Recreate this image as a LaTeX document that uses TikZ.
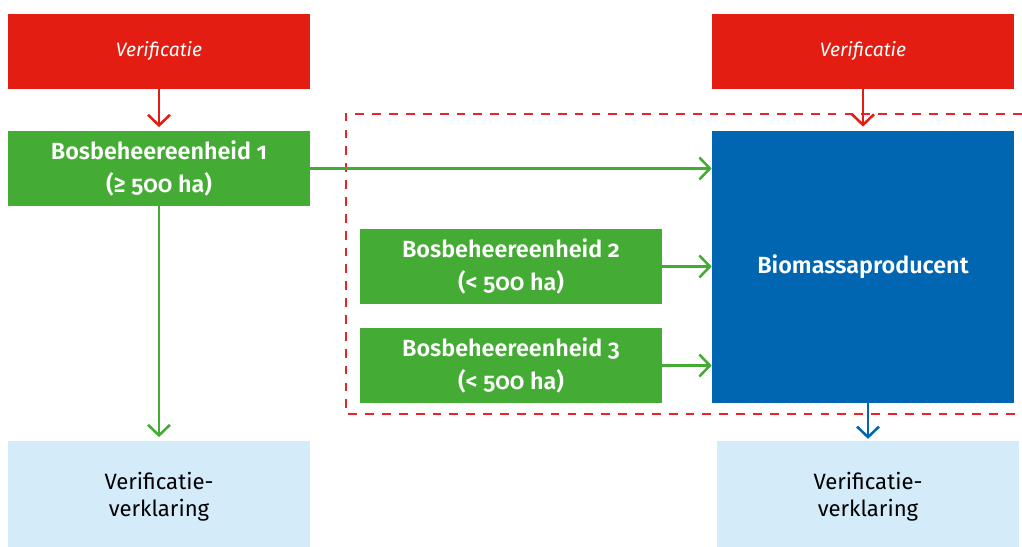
\documentclass[tikz,border=0pt]{standalone}
\usepackage{fontspec}
\setmainfont[Numbers=OldStyle,BoldFont={Fira Sans SemiBold}]{Fira Sans}
\usepackage{tikz}
\usetikzlibrary{arrows.meta,positioning}
\definecolor{rvored}{HTML}{E31D12}
\definecolor{rvogreen}{HTML}{44AC34}
\definecolor{rvoblue}{HTML}{0066B2}
\definecolor{rvolight}{HTML}{D4EBFA}
\definecolor{rvodash}{HTML}{E8232A}

\begin{document}
\begin{tikzpicture}
			[x=0.02cm,y=-0.02cm,font=\fontsize{12.5}{18.5}\selectfont,
			box/.style={shape=rectangle,draw=none,inner sep=0pt,align=center,
				minimum width=6.04cm,minimum height=1.5cm},
			check/.style={box,fill=rvored,text=white,font=\fontsize{11}{18.5}\selectfont\itshape},
			unit/.style={box,fill=rvogreen,text=white,font=\fontsize{13.3}{18.7}\selectfont\bfseries},
			producer/.style={box,fill=rvoblue,text=white,minimum height=5.44cm,font=\fontsize{13.3}{18.7}\selectfont\bfseries},
			statement/.style={box,fill=rvolight,text=black,minimum height=2.12cm,font=\fontsize{12.6}{15.8}\selectfont},
			arc/.style={-{Straight Barb[length=6pt,width=12.5pt]},line width=1.45pt}]
			\useasboundingbox (0,0) rectangle (1022,547);
			
			% dashed frame round the chain
			\draw [rvodash,line width=1.4pt,dash pattern=on 5pt off 4.6pt]
				(1022,114) -- (346,114) -- (346,414) -- (1022,414);
			
			\node (verL) [check] at (159,51.5) {Verificatie};
			\node (verR) [check] at (863,51.5) {Verificatie};
			
			\node (bos1) [unit] at (159,168.5) {Bosbeheereenheid 1\\(≥ 500 ha)};
			\node (bos2) [unit] at (511,266.5) {Bosbeheereenheid 2\\(< 500 ha)};
			\node (bos3) [unit] at (511,365.5) {Bosbeheereenheid 3\\(< 500 ha)};
			
			\node (bio) [producer] at (863,267) {Biomassaproducent};
			
			\node (vvL) [statement] at (159,494) {\rule{0pt}{13pt}Verificatie-\\verklaring};
			\node (vvR) [statement] at (868,494) {\rule{0pt}{13pt}Verificatie-\\verklaring};
			
			\draw [arc,rvored,shorten >=2pt] (verL) to (bos1);
			\draw [arc,rvored,shorten >=2.3pt] (verR) to (bio);
			\draw [arc,rvogreen] (bos1.east) to (bos1.east -| bio.west);
			\draw [arc,rvogreen] (bos2.east) to (bos2.east -| bio.west);
			\draw [arc,rvogreen] (bos3.east) to (bos3.east -| bio.west);
			\draw [arc,rvogreen,shorten >=2pt] (bos1) to (vvL);
			\draw [arc,rvoblue,shorten >=1pt] (vvR.north |- bio.south) to (vvR.north);
\end{tikzpicture}
\end{document}
